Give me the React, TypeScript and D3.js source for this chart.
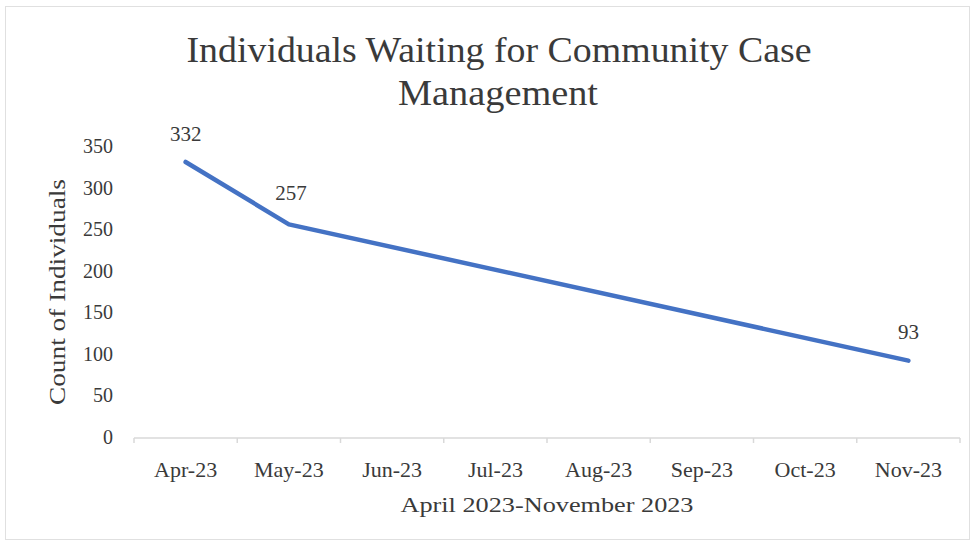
import React from "react";
import * as d3 from "d3";

const categories = ["Apr-23", "May-23", "Jun-23", "Jul-23", "Aug-23", "Sep-23", "Oct-23", "Nov-23"];
const values: (number | null)[] = [332, 257, null, null, null, null, null, 93];
const yTicks = [0, 50, 100, 150, 200, 250, 300, 350];
const titleLines = ["Individuals Waiting for Community Case", "Management"];
const yAxisTitle = "Count of Individuals";
const xAxisTitle = "April 2023-November 2023";

const W = 976;
const H = 546;
const plot = { left: 134, right: 960, top: 147, bottom: 438 };
const textColor = "#3a3a3a";
const font = "'Liberation Serif', 'DejaVu Serif', serif";

export default function App() {
  const x = d3.scaleBand<string>().domain(categories).range([plot.left, plot.right]);
  const y = d3.scaleLinear().domain([0, 350]).range([plot.bottom, plot.top]);
  const cx = (c: string) => (x(c) as number) + x.bandwidth() / 2;

  const pts = categories
    .map((c, i) => ({ c, v: values[i] }))
    .filter((d) => d.v !== null) as { c: string; v: number }[];

  const line = d3
    .line<{ c: string; v: number }>()
    .x((d) => cx(d.c))
    .y((d) => y(d.v));

  const boundaries = categories.map((c) => x(c) as number).concat([plot.right]);

  const labelOffsets: Record<string, [number, number]> = {
    "Apr-23": [0, -21],
    "May-23": [2, -24],
    "Nov-23": [0, -22],
  };

  return (
    <div style={{ position: "absolute", left: 0, top: 0, margin: 0 }}>
      <svg width={W} height={H} style={{ display: "block", background: "#fff" }}>
        <rect x={5.5} y={6.5} width={964} height={533} fill="#fff" stroke="#e0e0e0" strokeWidth={1} />
        {/* title */}
        <text x={499} y={62} textAnchor="middle" fontFamily={font} fontSize={35} fill={textColor}
          textLength={625} lengthAdjust="spacingAndGlyphs">{titleLines[0]}</text>
        <text x={498} y={105} textAnchor="middle" fontFamily={font} fontSize={35} fill={textColor}
          textLength={200} lengthAdjust="spacingAndGlyphs">{titleLines[1]}</text>

        {/* y tick labels */}
        {yTicks.map((t) => (
          <text key={t} x={113} y={y(t) + 6} textAnchor="end" fontFamily={font} fontSize={20} fill={textColor}>
            {t}
          </text>
        ))}

        {/* x axis */}
        <line x1={plot.left} x2={plot.right} y1={plot.bottom} y2={plot.bottom} stroke="#d9d9d9" strokeWidth={1.5} />
        {boundaries.map((b, i) => (
          <line key={i} x1={b} x2={b} y1={plot.bottom} y2={plot.bottom + 5} stroke="#d9d9d9" strokeWidth={1.5} />
        ))}
        {categories.map((c) => (
          <text key={c} x={cx(c)} y={477} textAnchor="middle" fontFamily={font} fontSize={22} fill={textColor}>
            {c}
          </text>
        ))}

        {/* axis titles */}
        <text x={547} y={512} textAnchor="middle" fontFamily={font} fontSize={22} fill={textColor}
          textLength={293} lengthAdjust="spacingAndGlyphs">{xAxisTitle}</text>
        <text transform={`translate(65,292) rotate(-90)`} textAnchor="middle" fontFamily={font} fontSize={24}
          fill={textColor} textLength={226} lengthAdjust="spacingAndGlyphs">{yAxisTitle}</text>

        {/* line */}
        <path d={line(pts) || ""} fill="none" stroke="#4472c4" strokeWidth={4.5} strokeLinejoin="round" strokeLinecap="round" />

        {/* data labels */}
        {pts.map((d) => {
          const off = labelOffsets[d.c] || [0, -20];
          return (
            <text key={d.c} x={cx(d.c) + off[0]} y={y(d.v) + off[1]} textAnchor="middle" fontFamily={font}
              fontSize={21} fill={textColor}>
              {d.v}
            </text>
          );
        })}
      </svg>
    </div>
  );
}
